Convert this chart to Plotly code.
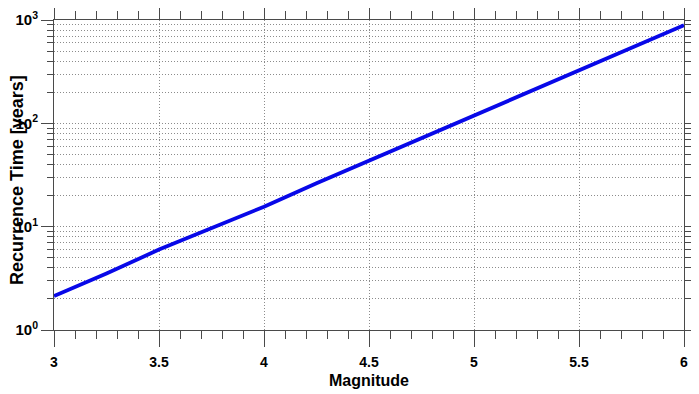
import plotly.graph_objects as go

magnitude = [3.0, 3.25, 3.5, 3.75, 4.0, 4.25, 4.5, 4.75, 5.0, 5.25, 5.5, 5.75, 6.0]
recurrence_years = [2.13, 3.52, 6.0, 9.7, 15.6, 26.3, 43.5, 72, 119, 196, 325, 535, 890]

decades = [1, 10, 100, 1000]
decade_labels = ["10<sup>0</sup>", "10<sup>1</sup>", "10<sup>2</sup>", "10<sup>3</sup>"]
minor_y = [m * d for d in [1, 10, 100] for m in range(2, 10)]

_AXIS = "#4a4a4a"
_GRID = "#8c8c8c"
_DOTS = "1px,2px"
_FONT = "Arial, Liberation Sans, sans-serif"

fig = go.Figure()
fig.add_trace(go.Scatter(
    x=magnitude, y=recurrence_years, mode="lines",
    line={"color": "#0808e8", "width": 3.8}, showlegend=False,
))

# the page body has an 8px margin, so the figure is sized to fit inside the window
fig.update_layout(
    width=691, height=386,
    margin={"l": 46, "r": 15, "t": 12, "b": 64},
    plot_bgcolor="white", paper_bgcolor="white",
    xaxis={
        "range": [3, 6], "dtick": 0.5, "tick0": 3, "automargin": False,
        "ticks": "outside", "ticklen": 16, "tickwidth": 1, "tickcolor": _AXIS,
        "ticklabelstandoff": 3,
        "showline": True, "linecolor": _AXIS, "mirror": "ticks",
        "showgrid": True, "gridcolor": _GRID, "griddash": _DOTS, "gridwidth": 1,
        "zeroline": False,
        "minor": {"dtick": 0.1, "ticks": "outside", "ticklen": 8, "tickwidth": 1,
                  "tickcolor": _AXIS, "showgrid": False},
        "tickfont": {"family": _FONT, "size": 14, "color": "black", "weight": "bold"},
    },
    yaxis={
        "type": "log", "range": [0, 3], "automargin": False,
        "tickmode": "array", "tickvals": decades, "ticktext": decade_labels,
        "ticks": "outside", "ticklen": 12, "tickwidth": 1, "tickcolor": _AXIS,
        "ticklabelstandoff": 0,
        "showline": True, "linecolor": _AXIS, "mirror": "ticks",
        "showgrid": True, "gridcolor": _GRID, "griddash": _DOTS, "gridwidth": 1,
        "zeroline": False,
        "minor": {"tickmode": "array", "tickvals": minor_y, "ticks": "outside", "ticklen": 6,
                  "tickwidth": 1, "tickcolor": _AXIS,
                  "showgrid": True, "gridcolor": _GRID, "griddash": _DOTS, "gridwidth": 1},
        "tickfont": {"family": _FONT, "size": 15, "color": "black", "weight": "bold"},
    },
    annotations=[
        {"text": "<b>Magnitude</b>", "xref": "paper", "yref": "paper", "x": 0.5, "y": 0,
         "yshift": -50, "yanchor": "middle", "showarrow": False,
         "font": {"family": _FONT, "size": 16, "color": "black"}},
        {"text": "<b>Recurrence Time [years]</b>", "xref": "paper", "yref": "paper",
         "x": 0, "xshift": -37, "y": 0.484, "textangle": -90, "showarrow": False,
         "xanchor": "center", "yanchor": "middle",
         "font": {"family": _FONT, "size": 18, "color": "black"}},
    ],
)

fig.write_html("out.html")
